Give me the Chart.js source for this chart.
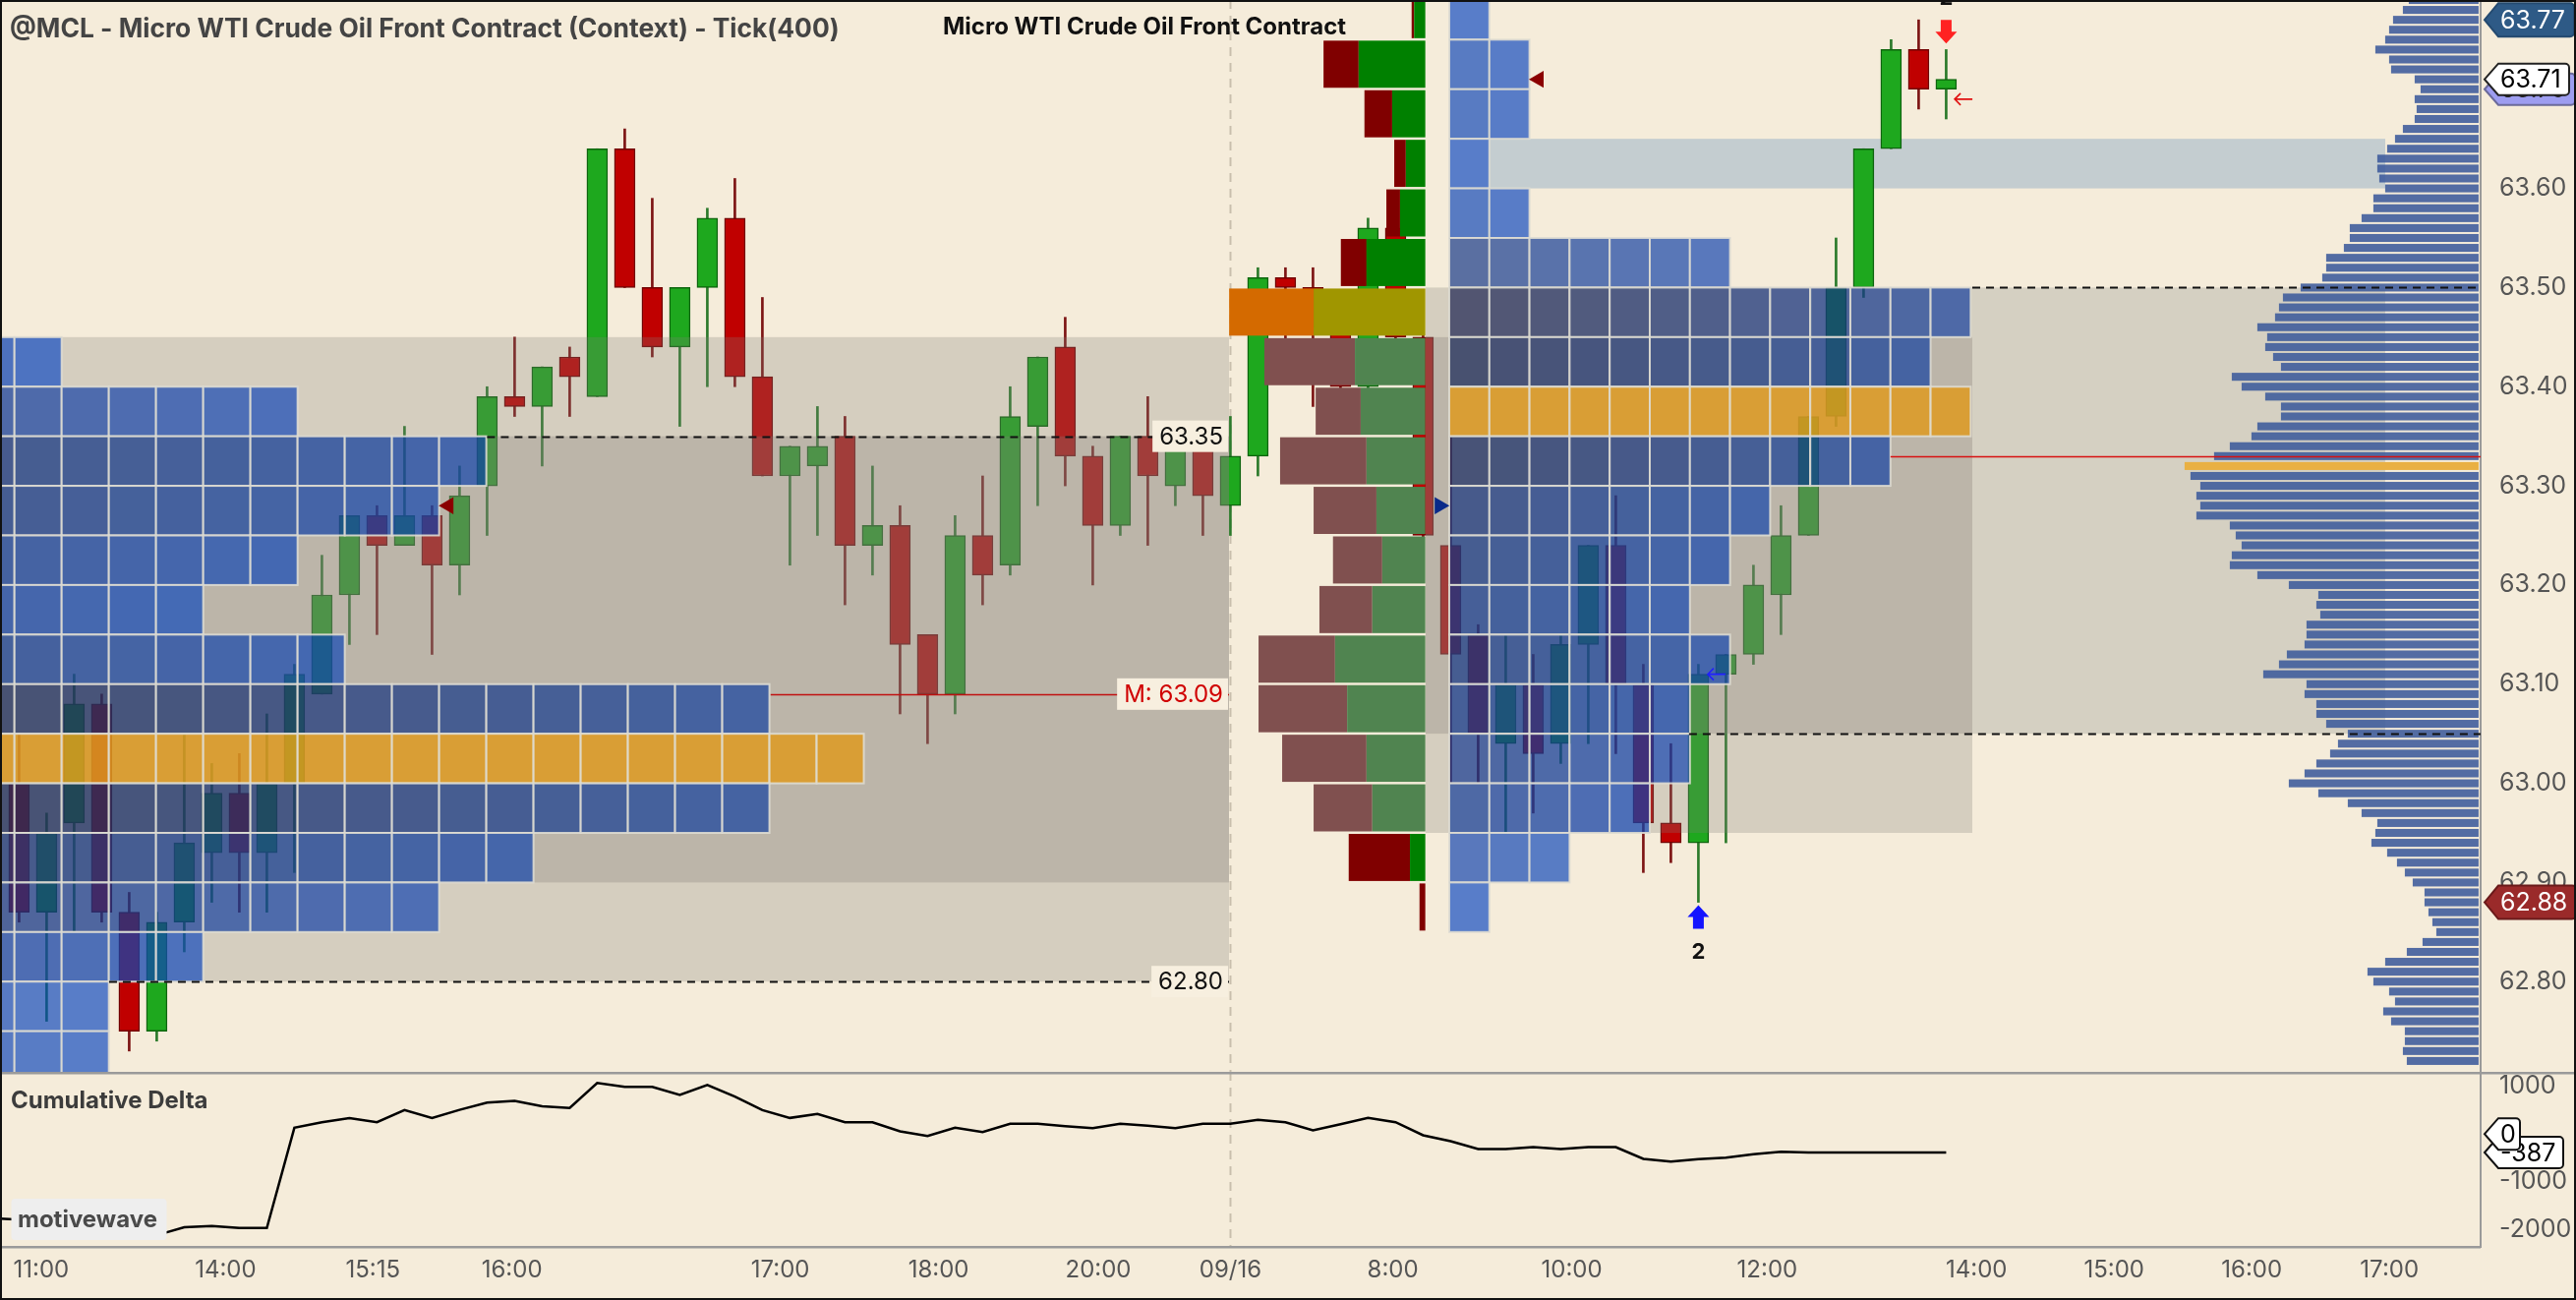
<!DOCTYPE html>
<html>
<head>
<meta charset="utf-8">
<title>@MCL - Micro WTI Crude Oil Front Contract (Context) - Tick(400)</title>
<script src="https://cdn.jsdelivr.net/npm/chart.js@4.4.1/dist/chart.umd.min.js"></script>
<style>
  html, body { margin: 0; padding: 0; background: #f5ecda; overflow: hidden; }
  #wrap { position: relative; width: 2620px; height: 1322px; }
  .pane { position: absolute; left: 0; width: 2620px; }
  #pricePane { top: 0; height: 1090px; }
  #cdPane { top: 1090px; height: 232px; }
  #frame { position: absolute; left: 0; top: 0; width: 2620px; height: 1322px;
           box-sizing: border-box; border: 2px solid #111; pointer-events: none; }
</style>
</head>
<body>
<div id="wrap">
  <div class="pane" id="pricePane"><canvas id="priceChart"></canvas></div>
  <div class="pane" id="cdPane"><canvas id="cdChart"></canvas></div>
  <div id="frame"></div>
</div>
<script>
// ---------- tick bars (400 ticks each), bar 0 = first bar on screen
const barOpen  = [63.00,62.87,62.96,63.08,62.87,62.75,62.86,62.93,62.99,62.93,63.00,63.09,63.19,63.27,63.24,63.27,63.22,63.30,63.39,63.38,
                  63.43,63.39,63.64,63.50,63.44,63.50,63.57,63.41,63.31,63.32,63.35,63.24,63.26,63.15,63.09,63.25,63.22,63.36,63.44,63.33,
                  63.26,63.35,63.30,63.34,63.28,63.33,63.51,63.50,63.46,63.40,63.56,63.45,63.24,63.15,63.04,63.10,63.04,63.14,63.24,63.10,
                  62.96,62.94,63.11,63.13,63.19,63.25,63.37,63.50,63.64,63.74,63.70];
const barHigh  = [63.05,62.97,63.11,63.09,62.89,62.87,63.05,63.02,63.03,63.07,63.12,63.23,63.27,63.28,63.36,63.28,63.32,63.40,63.45,63.42,
                  63.44,63.64,63.66,63.59,63.50,63.58,63.61,63.49,63.34,63.38,63.37,63.32,63.28,63.15,63.27,63.31,63.40,63.43,63.47,63.34,
                  63.35,63.39,63.35,63.35,63.37,63.52,63.52,63.52,63.48,63.57,63.57,63.46,63.35,63.16,63.15,63.13,63.15,63.24,63.29,63.12,
                  63.04,63.12,63.13,63.22,63.28,63.37,63.55,63.64,63.75,63.77,63.74];
const barLow   = [62.86,62.76,62.85,62.86,62.73,62.74,62.83,62.88,62.87,62.87,62.91,63.09,63.14,63.15,63.24,63.13,63.19,63.25,63.37,63.32,
                  63.37,63.39,63.50,63.43,63.36,63.40,63.40,63.31,63.22,63.25,63.18,63.21,63.07,63.04,63.07,63.18,63.21,63.28,63.30,63.20,
                  63.25,63.24,63.28,63.25,63.25,63.31,63.42,63.38,63.37,63.38,63.43,63.24,63.00,63.00,62.95,62.97,63.02,63.04,63.03,62.91,
                  62.92,62.88,62.94,63.12,63.15,63.25,63.36,63.49,63.64,63.68,63.67];
const barClose = [62.87,62.95,63.08,62.87,62.75,62.86,62.94,62.99,62.93,63.00,63.11,63.19,63.27,63.24,63.27,63.22,63.29,63.39,63.38,63.42,
                  63.41,63.64,63.50,63.44,63.50,63.57,63.41,63.31,63.34,63.34,63.24,63.26,63.14,63.09,63.25,63.21,63.37,63.43,63.33,63.26,
                  63.35,63.31,63.34,63.29,63.33,63.51,63.50,63.46,63.40,63.56,63.45,63.25,63.13,63.05,63.10,63.03,63.14,63.24,63.10,62.96,
                  62.94,63.11,63.13,63.20,63.25,63.37,63.50,63.64,63.74,63.70,63.71];

// ---------- cumulative delta, one value per bar, first value belongs to bar -1
const cdFirstBar = -1;
const cdValue = [-1760,-1790,-1840,-1900,-1970,-2040,-2115,-1950,-1925,-1965,-1965,130,245,330,245,500,335,505,655,690,
                 580,545,1065,985,985,815,1025,780,500,335,420,246,246,55,-41,130,41,212,212,164,
                 123,212,171,123,212,212,294,246,75,205,335,246,-27,-150,-315,-315,-274,-315,-274,-274,
                 -520,-575,-527,-493,-424,-370,-387,-387,-387,-387,-387,-387];

// ---------- axes
const timeTickBar   = [0.8, 7.5, 12.85, 17.9, 27.65, 33.4, 39.2, 44, 49.9, 56.4, 63.5, 71.1, 76.1, 81.1, 86.1];
const timeTickLabel = ['11:00','14:00','15:15','16:00','17:00','18:00','20:00','09/16','8:00','10:00','12:00','14:00','15:00','16:00','17:00'];
const priceTicks = [62.8, 62.9, 63.0, 63.1, 63.2, 63.3, 63.4, 63.5, 63.6, 63.7];
const cdTicks = [1000, 0, -1000, -2000];

// ---------- TPO, previous session (rows = 5 cent bins, low edge)
const tpoPrevRow   = [63.40,63.35,63.30,63.25,63.20,63.15,63.10,63.05,63.00,62.95,62.90,62.85,62.80,62.75,62.70];
const tpoPrevCount = [2,7,11,10,7,5,8,17,19,17,12,10,5,3,3];
const tpoPrevPoc = 63.00;
// ---------- TPO, current session
const tpoCurRow   = [63.75,63.70,63.65,63.60,63.55,63.50,63.45,63.40,63.35,63.30,63.25,63.20,63.15,63.10,63.05,63.00,62.95,62.90,62.85];
const tpoCurCount = [1,2,2,1,2,7,13,12,13,11,8,7,6,7,6,6,5,3,1];
const tpoCurPoc = 63.35;

// ---------- current session volume profile (same rows as tpoCurRow)
const sessBidVol = [25,357,282,118,139,261,859,921,458,879,639,501,538,778,901,858,597,623,59];
const sessAskVol = [114,678,337,198,257,598,1136,716,657,598,497,438,539,918,795,598,539,156,0];
const sessPoc = 63.45;

// ---------- composite volume profile, one row per tick
const compPrice = [63.79,63.78,63.77,63.76,63.75,63.74,63.73,63.72,63.71,63.70,
                   63.69,63.68,63.67,63.66,63.65,63.64,63.63,63.62,63.61,63.60,
                   63.59,63.58,63.57,63.56,63.55,63.54,63.53,63.52,63.51,63.50,
                   63.49,63.48,63.47,63.46,63.45,63.44,63.43,63.42,63.41,63.40,
                   63.39,63.38,63.37,63.36,63.35,63.34,63.33,63.32,63.31,63.30,
                   63.29,63.28,63.27,63.26,63.25,63.24,63.23,63.22,63.21,63.20,
                   63.19,63.18,63.17,63.16,63.15,63.14,63.13,63.12,63.11,63.10,
                   63.09,63.08,63.07,63.06,63.05,63.04,63.03,63.02,63.01,63.00,
                   62.99,62.98,62.97,62.96,62.95,62.94,62.93,62.92,62.91,62.90,
                   62.89,62.88,62.87,62.86,62.85,62.84,62.83,62.82,62.81,62.80,
                   62.79,62.78,62.77,62.76,62.75,62.74,62.73,62.72];
const compVol = [71,77,87,91,95,105,91,89,65,59,
                 65,63,65,77,85,93,103,103,101,95,
                 107,107,119,131,131,137,155,155,159,181,
                 199,203,207,225,215,217,209,201,251,241,
                 217,201,201,225,231,253,269,299,293,283,
                 287,283,287,253,247,241,251,253,225,193,
                 163,165,161,175,175,177,195,203,219,175,
                 177,165,165,155,133,143,151,165,177,193,
                 163,133,119,103,105,109,93,83,75,67,
                 55,55,51,47,43,57,73,95,113,107,
                 91,85,97,89,75,75,77,73];

// ---------- ranges and levels
const prevVolVA = [62.80, 63.45];
const prevTpoVA = [62.90, 63.35];
const curVolVA  = [62.95, 63.50];
const curTpoVA  = [63.05, 63.45];
const compVA    = [63.05, 63.50];
const gapZone   = [63.60, 63.65];
const dashLevel = [63.35, 62.80, 63.50, 63.05];
const midLevel = 63.09;
const devPoc = 63.33;
const lastPrice = 63.71, highPrice = 63.77, lowPrice = 62.88, prevClose = 63.70;
const cdLast = -387;

// ---------- signals
const flagBar = [15.6, 55.2], flagPrice = [63.28, 63.71];
const pivotBar = [51.6], pivotPrice = [63.28];
const buyBar = 61, buyPrice = 62.877, sellBar = 70, sellPrice = 63.746;
const tagArrowBar = [70.31, 61.34], tagArrowPrice = [63.69, 63.11];

// ---------- layout (bar units)
const X_MIN = -0.693, X_MAX = 89.414;
const SESSION_BREAK = 44;
const PREV_END = 43.95;
const PREV_TPO_START = -1.882, PREV_TPO_W = 1.714;
const CUR_TPO_START = 51.95, CUR_TPO_W = 1.457;
const CUR_BOX = [51.09, 70.95];
const COMP_ZONE = [70.95, 85.95];
const GAP_FROM = 53.41;
const SESS_PROF_RIGHT = 51.08, SESS_PROF_W = 7.125;
const COMP_PROF_RIGHT = 89.34, COMP_PROF_W = 10.68;
const DASH_FROM = [17.0, 3.27, 70.95, 60.66];
const DASH_TO = [PREV_END, PREV_END, X_MAX, X_MAX];
const MID_FROM = 27.3, POC_FROM = 67.98;

const FONT = "Inter, Roboto, 'DejaVu Sans', sans-serif";
const AXIS_W = 97;

function clipTo(ctx, a) {
  ctx.save();
  ctx.beginPath();
  ctx.rect(a.left, a.top, a.right - a.left, a.bottom - a.top);
  ctx.clip();
}

function zone(ctx, x, y, x0, x1, p0, p1, fill) {
  const l = x.getPixelForValue(x0), r = x.getPixelForValue(x1);
  const t = y.getPixelForValue(p1), b = y.getPixelForValue(p0);
  ctx.fillStyle = fill;
  ctx.fillRect(l, t, r - l, b - t);
}

// darker / greyer for early periods and crowded rows, brighter blue otherwise
function cellColor(colFrac, density) {
  let t = 0.5 * colFrac + 0.8 * (1 - density);
  t = Math.max(0, Math.min(1, t));
  const r = Math.round(10 - 10 * t), g = Math.round(22 + 60 * t), b = Math.round(70 + 165 * t);
  return 'rgba(' + r + ',' + g + ',' + b + ',0.65)';
}

function drawTpo(ctx, x, y, rows, counts, poc, start, w) {
  const maxC = Math.max(...counts);
  rows.forEach((lo, r) => {
    const t = y.getPixelForValue(lo + 0.05), b = y.getPixelForValue(lo);
    for (let c = 0; c < counts[r]; c++) {
      const l = x.getPixelForValue(start + c * w), rr = x.getPixelForValue(start + (c + 1) * w);
      ctx.fillStyle = Math.abs(lo - poc) < 1e-6 ? 'rgba(225,153,25,0.8)' : cellColor(c / (maxC - 1), counts[r] / maxC);
      ctx.fillRect(l, t, rr - l, b - t);
      ctx.strokeStyle = 'rgba(222,219,210,0.9)';
      ctx.lineWidth = 2;
      ctx.strokeRect(l, t, rr - l, b - t);
    }
  });
}

function hLine(ctx, x, y, x0, x1, p, color, width, dash) {
  const py = Math.round(y.getPixelForValue(p)) + 0.5;
  ctx.save();
  ctx.strokeStyle = color;
  ctx.lineWidth = width;
  ctx.setLineDash(dash || []);
  ctx.beginPath();
  ctx.moveTo(x.getPixelForValue(x0), py);
  ctx.lineTo(x.getPixelForValue(x1), py);
  ctx.stroke();
  ctx.restore();
}

function lineLabel(ctx, xr, yc, txt, color) {
  ctx.font = '24px ' + FONT;
  const w = ctx.measureText(txt).width + 12;
  ctx.fillStyle = '#f7efdf';
  ctx.fillRect(xr - w, yc - 16, w, 32);
  ctx.fillStyle = color;
  ctx.textAlign = 'right';
  ctx.textBaseline = 'middle';
  ctx.fillText(txt, xr - 5, yc + 1);
}

function blockArrow(ctx, x, yTip, dir, color) {
  const hw = 11, hh = 12, sw = 5.5, sh = 12;
  ctx.fillStyle = color;
  ctx.beginPath();
  ctx.moveTo(x, yTip);
  ctx.lineTo(x + hw, yTip + dir * hh);
  ctx.lineTo(x + sw, yTip + dir * hh);
  ctx.lineTo(x + sw, yTip + dir * (hh + sh));
  ctx.lineTo(x - sw, yTip + dir * (hh + sh));
  ctx.lineTo(x - sw, yTip + dir * hh);
  ctx.lineTo(x - hw, yTip + dir * hh);
  ctx.closePath();
  ctx.fill();
}

function thinArrow(ctx, xTip, yc, color) {
  ctx.save();
  ctx.strokeStyle = color;
  ctx.lineWidth = 1.6;
  ctx.beginPath();
  ctx.moveTo(xTip + 18, yc);
  ctx.lineTo(xTip, yc);
  ctx.moveTo(xTip + 6, yc - 6);
  ctx.lineTo(xTip, yc);
  ctx.lineTo(xTip + 6, yc + 6);
  ctx.stroke();
  ctx.restore();
}

function axisTag(ctx, x0, yc, x1, h, fill, stroke, txt, txtColor) {
  const tip = 14, r = 4, t = yc - h / 2, b = yc + h / 2;
  ctx.beginPath();
  ctx.moveTo(x0, yc);
  ctx.lineTo(x0 + tip, t);
  ctx.arcTo(x1, t, x1, b, r);
  ctx.arcTo(x1, b, x0 + tip, b, r);
  ctx.lineTo(x0 + tip, b);
  ctx.closePath();
  ctx.fillStyle = fill;
  ctx.fill();
  if (stroke) { ctx.strokeStyle = stroke; ctx.lineWidth = 2; ctx.stroke(); }
  ctx.fillStyle = txtColor;
  ctx.font = '25px ' + FONT;
  ctx.textAlign = 'left';
  ctx.textBaseline = 'middle';
  ctx.fillText(txt, 2543, yc + 1);
}

function sessionBreak(ctx, x, a) {
  const px = Math.round(x.getPixelForValue(SESSION_BREAK)) + 0.5;
  ctx.save();
  ctx.strokeStyle = '#c9bfad';
  ctx.lineWidth = 2;
  ctx.setLineDash([9, 7]);
  ctx.beginPath();
  ctx.moveTo(px, a.top);
  ctx.lineTo(px, a.bottom);
  ctx.stroke();
  ctx.restore();
}

// keep the plot area flush with the pane edges
function fixVertical(s) { s.width = AXIS_W; s.paddingTop = 0; s.paddingBottom = 0; }

const priceDecor = {
  id: 'priceDecor',
  beforeDatasetsDraw(chart) {
    const { ctx, chartArea: a, scales: { x, y } } = chart;
    clipTo(ctx, a);
    zone(ctx, x, y, COMP_ZONE[0], COMP_ZONE[1], compVA[0], compVA[1], '#d5d0c2');
    zone(ctx, x, y, GAP_FROM, COMP_ZONE[1], gapZone[0], gapZone[1], '#c4cdd0');
    sessionBreak(ctx, x, a);
    ctx.restore();
  },
  afterDatasetDraw(chart, args) {
    if (args.index !== 1) return;
    const { ctx, chartArea: a, scales: { x, y } } = chart;
    clipTo(ctx, a);
    const veil = 'rgba(128,126,118,0.27)', veil2 = 'rgba(128,126,118,0.30)';
    zone(ctx, x, y, X_MIN, PREV_END, prevVolVA[0], prevVolVA[1], veil);
    zone(ctx, x, y, X_MIN, PREV_END, prevTpoVA[0], prevTpoVA[1], veil2);
    zone(ctx, x, y, CUR_BOX[0], CUR_BOX[1], curVolVA[0], curVolVA[1], veil);
    zone(ctx, x, y, CUR_BOX[0], CUR_BOX[1], curTpoVA[0], curTpoVA[1], veil2);
    drawTpo(ctx, x, y, tpoPrevRow, tpoPrevCount, tpoPrevPoc, PREV_TPO_START, PREV_TPO_W);
    drawTpo(ctx, x, y, tpoCurRow, tpoCurCount, tpoCurPoc, CUR_TPO_START, CUR_TPO_W);
    ctx.restore();
  },
  afterDatasetsDraw(chart) {
    const { ctx, chartArea: a, scales: { x, y } } = chart;
    clipTo(ctx, a);

    // session volume profile, bid / ask split
    const tot = sessBidVol.map((b, i) => b + sessAskVol[i]);
    const maxTot = Math.max(...tot);
    const xr = x.getPixelForValue(SESS_PROF_RIGHT);
    tpoCurRow.forEach((lo, i) => {
      const t = y.getPixelForValue(lo + 0.05) + 1, b = y.getPixelForValue(lo) - 1.5;
      const xl = x.getPixelForValue(SESS_PROF_RIGHT - tot[i] / maxTot * SESS_PROF_W);
      const xm = x.getPixelForValue(SESS_PROF_RIGHT - sessAskVol[i] / maxTot * SESS_PROF_W);
      let cBid = '#800000', cAsk = '#008000';
      if (Math.abs(lo - sessPoc) < 1e-6) { cBid = '#d46a00'; cAsk = '#a09600'; }
      else if (lo >= curVolVA[0] - 1e-6 && lo + 0.05 <= curVolVA[1] + 1e-6) { cBid = '#80504f'; cAsk = '#508450'; }
      ctx.fillStyle = cBid; ctx.fillRect(xl, t, xm - xl, b - t);
      ctx.fillStyle = cAsk; ctx.fillRect(xm, t, xr - xm, b - t);
    });

    // composite volume profile
    const maxV = Math.max(...compVol);
    const cr = x.getPixelForValue(COMP_PROF_RIGHT);
    compPrice.forEach((p, i) => {
      const t = y.getPixelForValue(p + 0.004), b = y.getPixelForValue(p - 0.004);
      const cl = x.getPixelForValue(COMP_PROF_RIGHT - compVol[i] / maxV * COMP_PROF_W);
      ctx.fillStyle = compVol[i] === maxV ? '#e9b043' : 'rgba(60,90,155,0.88)';
      ctx.fillRect(cl, t, cr - cl, b - t);
    });

    // levels
    dashLevel.forEach((p, i) => hLine(ctx, x, y, DASH_FROM[i], DASH_TO[i], p, '#111', 2, [8, 6]));
    hLine(ctx, x, y, MID_FROM, PREV_END, midLevel, '#c01010', 1.6);
    hLine(ctx, x, y, POC_FROM, X_MAX, devPoc, '#d81010', 1.6);
    const lx = x.getPixelForValue(PREV_END) - 1;
    lineLabel(ctx, lx, y.getPixelForValue(dashLevel[0]), dashLevel[0].toFixed(2), '#111');
    lineLabel(ctx, lx, y.getPixelForValue(dashLevel[1]), dashLevel[1].toFixed(2), '#111');
    lineLabel(ctx, lx, y.getPixelForValue(midLevel), 'M: ' + midLevel.toFixed(2), '#d00000');

    // signal arrows
    const bx = x.getPixelForValue(buyBar), by = y.getPixelForValue(buyPrice);
    blockArrow(ctx, bx, by, 1, '#1414ff');
    const sx = x.getPixelForValue(sellBar), sy = y.getPixelForValue(sellPrice);
    blockArrow(ctx, sx, sy, -1, '#ff2222');
    ctx.font = 'bold 22px ' + FONT;
    ctx.fillStyle = '#111';
    ctx.textAlign = 'center';
    ctx.textBaseline = 'middle';
    ctx.fillText('2', bx, by + 48);
    ctx.fillText('2', sx, sy - 46);
    thinArrow(ctx, x.getPixelForValue(tagArrowBar[0]), y.getPixelForValue(tagArrowPrice[0]), '#e01010');
    thinArrow(ctx, x.getPixelForValue(tagArrowBar[1]), y.getPixelForValue(tagArrowPrice[1]), '#2020ff');
    ctx.restore();
  },
  afterDraw(chart) {
    const { ctx, scales: { y } } = chart;
    ctx.save();
    ctx.textBaseline = 'middle';
    ctx.textAlign = 'left';
    ctx.font = 'bold 26.4px ' + FONT;
    ctx.fillStyle = '#444';
    ctx.fillText('@MCL - Micro WTI Crude Oil Front Contract (Context) - Tick(400)', 10, 30);
    ctx.font = 'bold 24px ' + FONT;
    ctx.fillStyle = '#111';
    ctx.fillText('Micro WTI Crude Oil Front Contract', 959, 28);
    const x0 = chart.chartArea.right + 4;
    axisTag(ctx, x0, y.getPixelForValue(highPrice), 2618, 34, '#2e5a86', '#244a70', highPrice.toFixed(2), '#fff');
    axisTag(ctx, x0, y.getPixelForValue(prevClose), 2619, 32, '#9d9df0', '#6a6a9a', prevClose.toFixed(2), '#222');
    axisTag(ctx, x0, y.getPixelForValue(lastPrice), 2613, 32, '#ffffff', '#222', lastPrice.toFixed(2), '#000');
    axisTag(ctx, x0, y.getPixelForValue(lowPrice), 2620, 34, '#9a2a2a', '#6a1a1a', lowPrice.toFixed(2), '#fff');
    ctx.restore();
  }
};

const cdDecor = {
  id: 'cdDecor',
  beforeDatasetsDraw(chart) {
    const { ctx, chartArea: a, scales: { x } } = chart;
    clipTo(ctx, a);
    sessionBreak(ctx, x, a);
    ctx.restore();
  },
  afterDatasetsDraw(chart) {
    const { ctx, chartArea: a } = chart;
    ctx.save();
    ctx.textAlign = 'left';
    ctx.textBaseline = 'middle';
    ctx.font = 'bold 24px ' + FONT;
    ctx.fillStyle = '#3c3c3c';
    ctx.fillText('Cumulative Delta', 11, 30);
    // watermark
    ctx.fillStyle = '#eeeeee';
    ctx.beginPath();
    ctx.roundRect(11.5, 129, 158, 42, 4);
    ctx.fill();
    ctx.font = 'bold 24px ' + FONT;
    ctx.fillStyle = '#4a4a4a';
    ctx.fillText('motivewave', 18, 151);
    // separators
    ctx.fillStyle = '#9a9a9a';
    ctx.fillRect(0, 0, 2620, 2.5);
    ctx.fillRect(0, a.bottom - 1, a.right, 2.5);
    ctx.restore();
  },
  afterDraw(chart) {
    const { ctx, scales: { y } } = chart;
    ctx.save();
    const x0 = chart.chartArea.right + 4;
    axisTag(ctx, x0, y.getPixelForValue(cdLast), 2607, 32, '#ffffff', '#111', String(cdLast), '#000');
    axisTag(ctx, x0, y.getPixelForValue(0), 2563, 32, '#ffffff', '#111', '0', '#000');
    ctx.restore();
  }
};

const up = barOpen.map((o, i) => barClose[i] >= o);

new Chart(document.getElementById('priceChart'), {
  type: 'bar',
  data: {
    datasets: [
      {
        label: 'wick',
        type: 'bar',
        order: 3,
        grouped: false,
        data: barLow.map((l, i) => ({ x: i, y: [l, barHigh[i]] })),
        backgroundColor: up.map(u => u ? '#2b7a2b' : '#7c1414'),
        barThickness: 2
      },
      {
        label: 'body',
        type: 'bar',
        order: 2,
        grouped: false,
        data: barOpen.map((o, i) => ({ x: i, y: [o, barClose[i]] })),
        backgroundColor: up.map(u => u ? '#1ea81e' : '#c00000'),
        borderColor: up.map(u => u ? '#0d650d' : '#720000'),
        borderWidth: 1.5,
        borderSkipped: false,
        barThickness: 21
      },
      {
        label: 'flags',
        type: 'scatter',
        order: 1,
        data: flagBar.map((b, i) => ({ x: b, y: flagPrice[i] }))
          .concat(pivotBar.map((b, i) => ({ x: b, y: pivotPrice[i] }))),
        pointStyle: 'triangle',
        pointRadius: 10,
        pointRotation: [-90, -90, 90],
        backgroundColor: ['#8b0000', '#8b0000', '#0a2a8a'],
        borderWidth: 0
      }
    ]
  },
  options: {
    animation: false,
    responsive: true,
    maintainAspectRatio: false,
    devicePixelRatio: 1,
    events: [],
    layout: { padding: 0, autoPadding: false },
    plugins: { legend: { display: false }, tooltip: { enabled: false } },
    scales: {
      x: { type: 'linear', min: X_MIN, max: X_MAX, offset: false, display: false },
      y: {
        position: 'right',
        min: 62.709,
        max: 63.790,
        afterFit: fixVertical,
        afterBuildTicks: s => { s.ticks = priceTicks.map(v => ({ value: v })); },
        grid: { display: false, drawTicks: false },
        border: { display: true, color: '#9a9a9a', width: 2 },
        ticks: {
          padding: 19,
          color: '#555',
          font: { family: FONT, size: 25 },
          callback: v => Number(v).toFixed(2)
        }
      }
    }
  },
  plugins: [priceDecor]
});

new Chart(document.getElementById('cdChart'), {
  type: 'line',
  data: {
    datasets: [{
      label: 'Cumulative Delta',
      data: cdValue.map((v, i) => ({ x: i + cdFirstBar, y: v })),
      borderColor: '#000',
      borderWidth: 2.5,
      pointRadius: 0,
      tension: 0
    }]
  },
  options: {
    animation: false,
    responsive: true,
    maintainAspectRatio: false,
    devicePixelRatio: 1,
    events: [],
    layout: { padding: 0, autoPadding: false },
    plugins: { legend: { display: false }, tooltip: { enabled: false } },
    scales: {
      x: {
        type: 'linear',
        min: X_MIN,
        max: X_MAX,
        offset: false,
        afterFit: s => { s.height = 54; s.paddingLeft = 0; s.paddingRight = 0; },
        afterBuildTicks: s => { s.ticks = timeTickBar.map(v => ({ value: v })); },
        grid: { display: false, drawTicks: false },
        border: { display: false },
        ticks: {
          autoSkip: false,
          maxRotation: 0,
          minRotation: 0,
          padding: 9,
          color: '#555',
          font: { family: FONT, size: 24 },
          callback: (v, i) => timeTickLabel[i]
        }
      },
      y: {
        position: 'right',
        min: -2360,
        max: 1298,
        afterFit: fixVertical,
        afterBuildTicks: s => { s.ticks = cdTicks.map(v => ({ value: v })); },
        grid: { display: false, drawTicks: false },
        border: { display: true, color: '#9a9a9a', width: 2 },
        ticks: {
          padding: 19,
          color: '#555',
          font: { family: FONT, size: 25 },
          callback: v => (v === 0 ? '' : String(v))
        }
      }
    }
  },
  plugins: [cdDecor]
});
</script>
</body>
</html>
